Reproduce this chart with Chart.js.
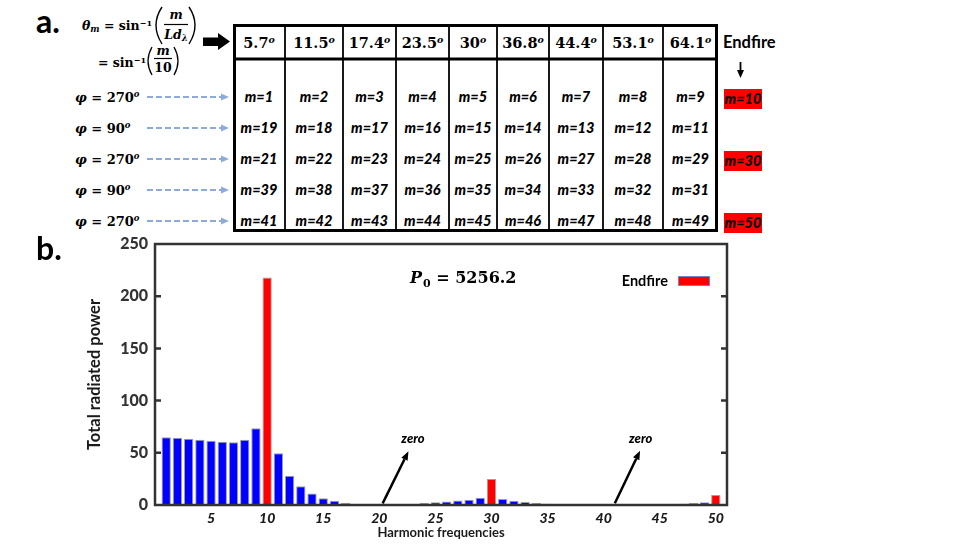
<!DOCTYPE html>
<html>
<head>
<meta charset="utf-8">
<script src="https://cdn.jsdelivr.net/npm/chart.js@4.4.1/dist/chart.umd.min.js"></script>
<style>
  html, body { margin: 0; padding: 0; background: #fff; }
  #page { position: relative; width: 969px; height: 545px; overflow: hidden; }
  #chart { position: absolute; left: 0; top: 0; }
  #panelA { position: absolute; left: 0; top: 0; width: 969px; height: 240px; }
  #panelA svg { position: absolute; left: 0; top: 0; }
  .t { position: absolute; white-space: nowrap; line-height: 1; color: #000; }
  .c { transform: translate(-50%, -50%); }
  .l { transform: translate(0, -50%); }
  .math { font-family: "DejaVu Serif", "Liberation Serif", serif; font-weight: bold; }
  .math sup { font-size: 0.65em; font-style: italic; vertical-align: 0.5em; line-height: 0; }
  .math sub { font-size: 0.7em; font-style: italic; vertical-align: -0.3em; line-height: 0; }
  .f12 { font-size: 12.5px; }
  .f13 { font-size: 13px; }
  .hdr { font-size: 14.5px; }
  .mode { font-family: Lato, "Open Sans", sans-serif; font-weight: 900; font-style: italic; font-size: 14.5px; }
  .label { font-family: Lato, "Open Sans", sans-serif; font-weight: bold; }
  .hit { position: absolute; background: #ff0000; }
</style>
</head>
<body>
<div id="page">
  <div id="panelA"></div>
  <canvas id="chart" width="969" height="545"></canvas>
</div>
<script>
// Harmonic spectrum (panel b)
const harmonics = [1, 2, 3, 4, 5, 6, 7, 8, 9, 10,
  11, 12, 13, 14, 15, 16, 17, 18, 19, 20,
  21, 22, 23, 24, 25, 26, 27, 28, 29, 30,
  31, 32, 33, 34, 35, 36, 37, 38, 39, 40,
  41, 42, 43, 44, 45, 46, 47, 48, 49, 50];
const totalPower = [65, 64.5, 63.5, 62.5, 61.5, 60.5, 60, 62.5, 73.5, 218,
  49.5, 28, 18, 11, 6.5, 4, 2, 1, 0.5, 0.2,
  0.2, 0.4, 1, 2, 2.7, 3.4, 4.2, 5, 7, 25,
  5.8, 4, 2.8, 1.8, 1.2, 0.7, 0.4, 0.3, 0.2, 0.1,
  0.1, 0.2, 0.3, 0.4, 0.6, 0.9, 1.2, 1.8, 2.6, 9.6];
const endfireHarmonics = [10, 30, 50];
const xTicks = [5, 10, 15, 20, 25, 30, 35, 40, 45, 50];
const yTicks = [0, 50, 100, 150, 200, 250];
const p0Value = '5256.2';

// Mode table (panel a)
const steeringAngles = ['5.7', '11.5', '17.4', '23.5', '30', '36.8', '44.4', '53.1', '64.1'];
const modeRows = [
  [1, 2, 3, 4, 5, 6, 7, 8, 9],
  [19, 18, 17, 16, 15, 14, 13, 12, 11],
  [21, 22, 23, 24, 25, 26, 27, 28, 29],
  [39, 38, 37, 36, 35, 34, 33, 32, 31],
  [41, 42, 43, 44, 45, 46, 47, 48, 49]
];
const rowPhi = [270, 90, 270, 90, 270];
const endfireByRow = [10, null, 30, null, 50];

const BLUE = '#0000ff';
const RED = '#ff0000';

// ---------- panel a (plain html + svg) ----------
const panelA = document.getElementById('panelA');
const colEdges = [233, 285, 343, 396, 449, 497, 549, 603, 663, 718];
const rowY = [97, 128, 159, 190, 221];

function place(html, x, y, cls) {
  const d = document.createElement('div');
  d.className = 't ' + cls;
  d.style.left = x + 'px';
  d.style.top = y + 'px';
  d.innerHTML = html;
  panelA.appendChild(d);
  return d;
}

let svg = '<svg width="969" height="240" xmlns="http://www.w3.org/2000/svg">';
// table frame
svg += '<rect x="234.5" y="25.5" width="482" height="205" fill="none" stroke="#000" stroke-width="3"/>';
svg += '<line x1="233" y1="59" x2="718" y2="59" stroke="#000" stroke-width="3"/>';
colEdges.slice(1, -1).forEach(x => {
  svg += `<line x1="${x}" y1="25" x2="${x}" y2="231" stroke="#000" stroke-width="1.8"/>`;
});
// dashed arrows from phi labels
rowY.forEach(y => {
  svg += `<line x1="147" y1="${y}" x2="222" y2="${y}" stroke="#8eaadb" stroke-width="2" stroke-dasharray="6,3"/>`;
  svg += `<polygon points="221,${y - 3.5} 229,${y} 221,${y + 3.5}" fill="#8eaadb"/>`;
});
// big black arrow
svg += '<polygon points="203,37.5 218,37.5 218,33 230,41.5 218,50 218,46 203,46" fill="#000"/>';
// endfire down arrow
svg += '<line x1="740.5" y1="62" x2="740.5" y2="71" stroke="#000" stroke-width="1.8"/>';
svg += '<polygon points="737,70 744,70 740.5,78" fill="#000"/>';
// parentheses and fraction bars of the formula
svg += '<path d="M162,7 Q150,25 162,44" fill="none" stroke="#000" stroke-width="1.4"/>';
svg += '<path d="M189,7 Q201,25 189,44" fill="none" stroke="#000" stroke-width="1.4"/>';
svg += '<line x1="164" y1="24.5" x2="188" y2="24.5" stroke="#000" stroke-width="1.2"/>';
svg += '<path d="M152,47 Q144,61 152,75" fill="none" stroke="#000" stroke-width="1.3"/>';
svg += '<path d="M174,47 Q182,61 174,75" fill="none" stroke="#000" stroke-width="1.3"/>';
svg += '<line x1="154" y1="58.5" x2="172" y2="58.5" stroke="#000" stroke-width="1.2"/>';
svg += '</svg>';
panelA.innerHTML = svg;

// panel labels
place('a.', 36, 21, 'label l').style.fontSize = '32px';
const bLabel = document.createElement('div');
bLabel.className = 't label l';
bLabel.style.cssText = 'left:36px;top:248px;font-size:32px;';
bLabel.textContent = 'b.';
document.getElementById('page').appendChild(bLabel);

// formula
place('<i>θ</i><sub>m</sub> = sin<sup style="font-style:normal">−1</sup>', 82, 26, 'math f12 l');
place('<i>m</i>', 176, 15, 'math f12 c');
place('<i>Ld</i><sub>λ</sub>', 176, 35, 'math f12 c');
place('= sin<sup style="font-style:normal">−1</sup>', 98, 63, 'math f12 l');
place('<i>m</i>', 163, 51, 'math f12 c');
place('10', 163, 67.5, 'math f12 c');

// phi labels
rowY.forEach((y, r) => {
  place(`<i>φ</i> = ${rowPhi[r]}<sup>o</sup>`, 75, y, 'math f13 l');
});

// header angles
steeringAngles.forEach((a, i) => {
  const cx = (colEdges[i] + colEdges[i + 1]) / 2;
  place(`${a}<sup>o</sup>`, cx, 43, 'math hdr c');
});
place('Endfire', 723, 42, 'label l').style.fontSize = '16.5px';

// mode numbers
modeRows.forEach((row, r) => {
  row.forEach((m, i) => {
    const cx = (colEdges[i] + colEdges[i + 1]) / 2;
    place(`m=${m}`, cx, rowY[r], 'mode c');
  });
  const ef = endfireByRow[r];
  if (ef !== null) {
    const box = document.createElement('div');
    box.className = 'hit';
    box.style.cssText = `left:724px;top:${rowY[r] - 8}px;width:38px;height:19.5px;`;
    panelA.appendChild(box);
    place(`m=${ef}`, 743, rowY[r] + 1.5, 'mode c');
  }
});

// ---------- panel b (Chart.js) ----------
const framePlugin = {
  id: 'frame',
  afterDatasetsDraw(chart) {
    const { ctx, chartArea: { left, right, top, bottom } } = chart;
    const y = chart.scales.y;
    ctx.save();
    ctx.strokeStyle = '#333';
    ctx.lineWidth = 2.5;
    ctx.strokeRect(left, top, right - left, bottom - top);
    ctx.beginPath();
    yTicks.slice(1, -1).forEach(v => {
      const py = y.getPixelForValue(v);
      ctx.moveTo(left, py); ctx.lineTo(left + 6, py);
      ctx.moveTo(right, py); ctx.lineTo(right - 6, py);
    });
    ctx.stroke();
    ctx.restore();
  }
};

function arrow(ctx, x1, y1, x2, y2) {
  const ang = Math.atan2(y2 - y1, x2 - x1);
  const len = 9, half = 3.5;
  const bx = x2 - len * Math.cos(ang), by = y2 - len * Math.sin(ang);
  ctx.beginPath();
  ctx.moveTo(x1, y1);
  ctx.lineTo(bx, by);
  ctx.stroke();
  ctx.beginPath();
  ctx.moveTo(x2, y2);
  ctx.lineTo(bx + half * Math.sin(ang), by - half * Math.cos(ang));
  ctx.lineTo(bx - half * Math.sin(ang), by + half * Math.cos(ang));
  ctx.closePath();
  ctx.fill();
}

const notesPlugin = {
  id: 'notes',
  afterDatasetsDraw(chart) {
    const { ctx, chartArea } = chart;
    const xs = chart.scales.x, ys = chart.scales.y;
    ctx.save();
    ctx.strokeStyle = '#000';
    ctx.fillStyle = '#000';
    ctx.lineWidth = 2.5;

    // "zero" markers
    [[20.3, 1.6, 22.6, 51.5, 23.0], [41.0, 1.6, 43.25, 52, 43.3]].forEach(([x1, y1, x2, y2, lx]) => {
      arrow(ctx, xs.getPixelForValue(x1), ys.getPixelForValue(y1), xs.getPixelForValue(x2), ys.getPixelForValue(y2));
      ctx.font = 'italic 900 13px Lato, sans-serif';
      ctx.textAlign = 'center';
      ctx.textBaseline = 'middle';
      ctx.fillText('zero', xs.getPixelForValue(lx), ys.getPixelForValue(63.5));
    });

    // P0 label
    let px = chartArea.left + 255;
    const base = chartArea.top + 39;
    ctx.textAlign = 'left';
    ctx.textBaseline = 'alphabetic';
    ctx.font = 'italic bold 16px "DejaVu Serif", serif';
    ctx.fillText('P', px, base);
    px += ctx.measureText('P').width + 1;
    ctx.font = 'bold 11px "DejaVu Serif", serif';
    ctx.fillText('0', px, base + 4);
    px += ctx.measureText('0').width;
    ctx.font = 'bold 16px "DejaVu Serif", serif';
    ctx.fillText(' = ' + p0Value, px, base);

    // legend
    const bw = 32, bh = 10;
    const bx = chartArea.right - 17 - bw, by = chartArea.top + 32;
    ctx.fillStyle = RED;
    ctx.fillRect(bx, by, bw, bh);
    ctx.strokeStyle = '#6f88b8';
    ctx.lineWidth = 1;
    ctx.strokeRect(bx + 0.5, by + 0.5, bw - 1, bh - 1);
    ctx.fillStyle = '#000';
    ctx.font = 'bold 14.5px Lato, sans-serif';
    ctx.textAlign = 'right';
    ctx.textBaseline = 'middle';
    ctx.fillText('Endfire', bx - 10, by + bh / 2);
    ctx.restore();
  }
};

const barColors = harmonics.map(m => endfireHarmonics.includes(m) ? RED : BLUE);

new Chart(document.getElementById('chart'), {
  type: 'bar',
  data: {
    datasets: [{
      label: 'Total radiated power',
      data: harmonics.map((m, i) => ({ x: m, y: totalPower[i] })),
      backgroundColor: barColors,
      borderColor: '#a0a0a0',
      borderWidth: 1,
      barPercentage: 0.83,
      categoryPercentage: 1
    }]
  },
  options: {
    responsive: false,
    animation: false,
    layout: { padding: { left: 80, right: 242, top: 244, bottom: 4 } },
    plugins: { legend: { display: false }, tooltip: { enabled: false } },
    scales: {
      x: {
        type: 'linear',
        min: 0,
        max: 51,
        offset: false,
        grid: { display: false, drawTicks: false, offset: false },
        border: { display: false },
        afterBuildTicks: s => { s.ticks = xTicks.map(v => ({ value: v })); },
        afterFit: s => { s.height = 36; },
        ticks: {
          padding: 5,
          autoSkip: false,
          maxRotation: 0,
          color: '#1a1a1a',
          font: { family: 'Lato', size: 14, weight: '900', style: 'italic' }
        },
        title: {
          display: true,
          text: 'Harmonic frequencies',
          color: '#1a1a1a',
          font: { family: 'Lato', size: 13, weight: 'bold' },
          padding: { top: 0, bottom: 0 }
        }
      },
      y: {
        min: 0,
        max: 250,
        grid: { display: false, drawTicks: false },
        border: { display: false },
        afterBuildTicks: s => { s.ticks = yTicks.map(v => ({ value: v })); },
        afterFit: s => { s.width = 75; },
        ticks: {
          padding: 7,
          color: '#333',
          font: { family: 'Lato', size: 16, weight: '900' }
        },
        title: {
          display: true,
          text: 'Total radiated power',
          color: '#1a1a1a',
          font: { family: 'Lato', size: 16.5, weight: 'bold' },
          padding: { top: 5, bottom: 0 }
        }
      }
    }
  },
  plugins: [framePlugin, notesPlugin]
});
</script>
</body>
</html>
